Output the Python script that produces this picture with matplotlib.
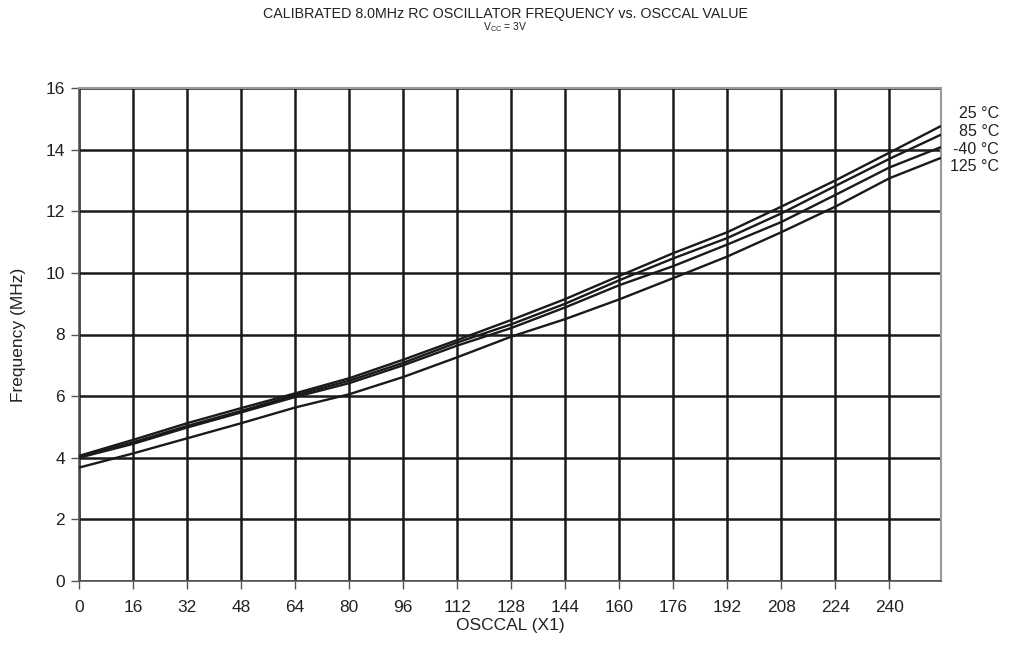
import matplotlib
matplotlib.use("Agg")
import matplotlib.pyplot as plt

plt.rcParams['font.family'] = ['Liberation Sans', 'DejaVu Sans']

osccal = [0, 16, 32, 48, 64, 80, 96, 112, 128, 144, 160, 176, 192, 208, 224, 240, 255]
f_25 = [4.06, 4.58, 5.12, 5.61, 6.09, 6.58, 7.18, 7.82, 8.47, 9.15, 9.90, 10.64, 11.32, 12.15, 13.00, 13.90, 14.75]
f_85 = [4.02, 4.50, 5.03, 5.52, 6.03, 6.50, 7.08, 7.74, 8.33, 9.00, 9.76, 10.47, 11.13, 11.93, 12.82, 13.70, 14.47]
f_m40 = [4.00, 4.45, 4.98, 5.47, 5.97, 6.42, 7.00, 7.64, 8.21, 8.88, 9.60, 10.22, 10.92, 11.65, 12.53, 13.42, 14.07]
f_125 = [3.68, 4.14, 4.63, 5.12, 5.63, 6.06, 6.62, 7.26, 7.93, 8.50, 9.14, 9.83, 10.53, 11.32, 12.15, 13.07, 13.72]

series_labels = ['25 °C', '85 °C', '-40 °C', '125 °C']
x_ticks = list(range(0, 241, 16))
y_ticks = list(range(0, 17, 2))

fig = plt.figure(figsize=(10.11, 6.58), dpi=100)
ax = fig.add_axes([79/1011, 1-581/658, (941-79)/1011, (581-88)/658])

for ys in (f_25, f_85, f_m40, f_125):
    ax.plot(osccal, ys, color='#1a1a1a', lw=1.7, zorder=3)

ax.set_xlim(0, 255.3)
ax.set_ylim(0, 16)
ax.set_xticks(x_ticks)
ax.set_yticks(y_ticks)
ax.grid(True, color='#1a1a1a', lw=1.8, zorder=1)
ax.set_axisbelow(True)

for s in ('left', 'bottom'):
    ax.spines[s].set_color('#555555')
    ax.spines[s].set_linewidth(1.2)
for s in ('top', 'right'):
    ax.spines[s].set_color('#999999')
    ax.spines[s].set_linewidth(1.5)

ax.tick_params(axis='both', direction='out', length=6, width=1, color='#555555',
               labelsize=12.5, labelcolor='#222222')
ax.tick_params(axis='x', pad=8)
ax.tick_params(axis='y', pad=4)

ax.set_xlabel('OSCCAL (X1)', fontsize=12.5, color='#222222', labelpad=2)
ax.set_ylabel('Frequency (MHz)', fontsize=12.5, color='#222222', labelpad=14)

fig.text(0.5, 1-14/658, 'CALIBRATED 8.0MHz RC OSCILLATOR FREQUENCY vs. OSCCAL VALUE',
         ha='center', va='center', fontsize=10.3, color='#222222')
fig.text(0.5, 1-27/658, r'V$_{\mathregular{CC}}$ = 3V', ha='center', va='center',
         fontsize=7.5, color='#222222')

label_y = [113, 131, 149, 166]
for lab, yy in zip(series_labels, label_y):
    fig.text(999/1011, 1-yy/658, lab, ha='right', va='center', fontsize=11.5, color='#222222')

fig.savefig('out.png', dpi=100)
